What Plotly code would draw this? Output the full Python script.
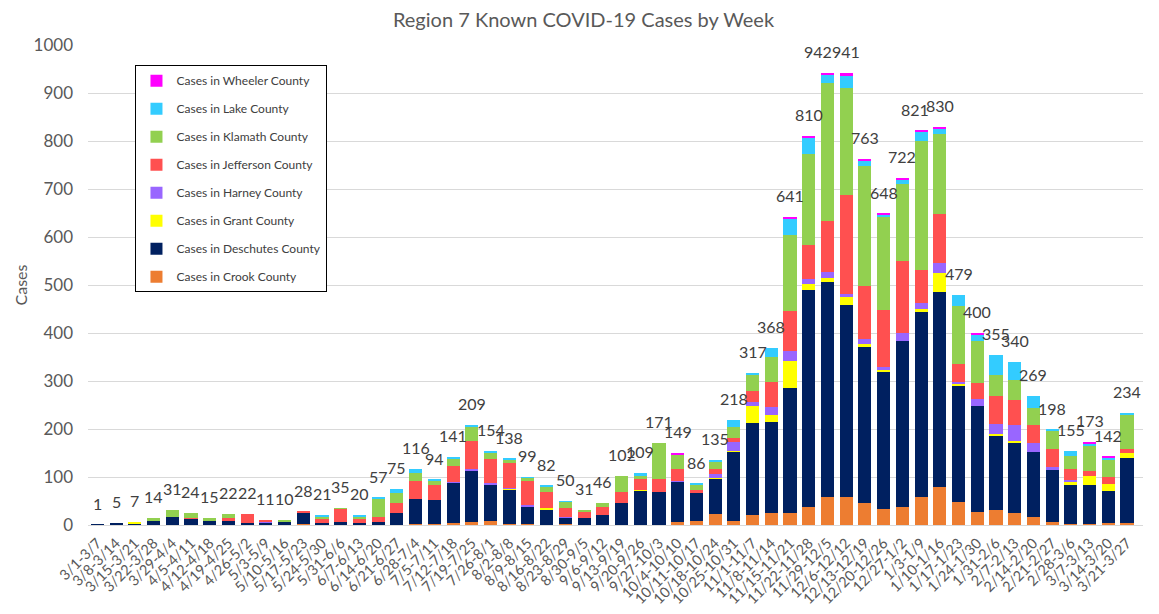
import plotly.graph_objects as go

weeks = ["3/1-3/7", "3/8-3/14", "3/15-3/21", "3/22-3/28", "3/29-4/4", "4/5-4/11", "4/12-4/18",
         "4/19-4/25", "4/26-5/2", "5/3-5/9", "5/10-5/16", "5/17-5/23", "5/24-5/30", "5/31-6/6",
         "6/7-6/13", "6/14-6/20", "6/21-6/27", "6/28-7/4", "7/5-7/11", "7/12-7/18", "7/19-7/25",
         "7/26-8/1", "8/2-8/8", "8/9-8/15", "8/16-8/22", "8/23-8/29", "8/30-9/5", "9/6-9/12",
         "9/13-9/19", "9/20-9/26", "9/27-10/3", "10/4-10/10", "10/11-10/17", "10/18-10/24",
         "10/25-10/31", "11/1-11/7", "11/8-11/14", "11/15-11/21", "11/22-11/28", "11/29-12/5",
         "12/6-12/12", "12/13-12/19", "12/20-12/26", "12/27-1/2", "1/3-1/9", "1/10-1/16",
         "1/17-1/23", "1/24-1/30", "1/31-2/6", "2/7-2/13", "2/14-2/20", "2/21-2/27", "2/28-3/6",
         "3/7-3/13", "3/14-3/20", "3/21-3/27"]

crook = [0, 0, 0, 0, 0, 0, 0, 1, 1, 0, 0, 2, 1, 0, 1, 1, 1, 2, 3, 5, 6, 8, 3, 2, 1, 2, 1, 0,
         1, 1, 1, 7, 9, 22, 9, 21, 26, 24, 38, 58, 58, 45, 33, 38, 59, 80, 47, 28, 31, 26, 17,
         7, 3, 3, 5, 5]
deschutes = [1, 5, 4, 9, 17, 13, 9, 8, 3, 6, 7, 24, 4, 7, 3, 6, 25, 52, 49, 84, 106, 76, 71,
             36, 31, 13, 13, 21, 44, 70, 67, 83, 58, 74, 144, 192, 188, 262, 452, 448, 401,
             325, 286, 346, 384, 405, 244, 219, 156, 146, 136, 108, 80, 81, 65, 134]
grant = [0, 0, 3, 0, 0, 0, 0, 0, 0, 0, 0, 0, 0, 0, 0, 0, 0, 0, 0, 0, 0, 0, 3, 0, 3, 0, 0, 0,
         0, 2, 0, 0, 0, 2, 2, 34, 15, 56, 12, 8, 16, 7, 3, 0, 7, 40, 3, 0, 3, 3, 0, 0, 7, 19,
         15, 10]
harney = [0, 0, 0, 0, 0, 0, 0, 0, 0, 1, 0, 0, 0, 0, 0, 0, 0, 0, 0, 1, 5, 3, 1, 3, 0, 2, 0, 0,
          0, 0, 0, 2, 0, 9, 17, 9, 17, 20, 11, 13, 6, 10, 7, 15, 13, 21, 4, 15, 21, 33, 17, 5,
          4, 0, 0, 0]
jefferson = [0, 0, 0, 0, 0, 1, 0, 6, 18, 4, 0, 2, 8, 27, 8, 10, 19, 37, 32, 33, 59, 50, 51,
             50, 33, 18, 15, 17, 24, 22, 27, 24, 5, 10, 9, 23, 52, 84, 71, 106, 207, 111, 119,
             151, 69, 101, 38, 33, 57, 52, 38, 38, 22, 10, 14, 10]
klamath = [0, 0, 0, 5, 14, 10, 6, 7, 0, 0, 3, 0, 5, 1, 6, 39, 22, 17, 8, 15, 29, 13, 8, 7, 13,
           13, 2, 8, 33, 7, 76, 30, 13, 15, 23, 35, 53, 159, 188, 287, 222, 250, 195, 160, 269,
           168, 121, 88, 45, 42, 35, 38, 28, 52, 38, 72]
lake = [0, 0, 0, 0, 0, 0, 0, 0, 0, 0, 0, 0, 3, 0, 2, 1, 8, 8, 2, 3, 4, 4, 1, 1, 1, 2, 0, 0, 0,
        7, 0, 0, 1, 3, 14, 3, 17, 33, 35, 19, 26, 12, 3, 9, 19, 12, 22, 14, 42, 38, 26, 2, 11,
        5, 3, 3]
wheeler = [0, 0, 0, 0, 0, 0, 0, 0, 0, 0, 0, 0, 0, 0, 0, 0, 0, 0, 0, 0, 0, 0, 0, 0, 0, 0, 0, 0,
           0, 0, 0, 3, 0, 0, 0, 0, 0, 3, 3, 3, 5, 3, 2, 3, 1, 3, 0, 3, 0, 0, 0, 0, 0, 3, 2, 0]

totals = [1, 5, 7, 14, 31, 24, 15, 22, 22, 11, 10, 28, 21, 35, 20, 57, 75, 116, 94, 141, 209,
          154, 138, 99, 82, 50, 31, 46, 102, 109, 171, 149, 86, 135, 218, 317, 368, 641, 810,
          942, 941, 763, 648, 722, 821, 830, 479, 400, 355, 340, 269, 198, 155, 173, 142, 234]

series = [
    ("Cases in Crook County", crook, "#ED7D31"),
    ("Cases in Deschutes County", deschutes, "#002060"),
    ("Cases in Grant County", grant, "#FFFF00"),
    ("Cases in Harney County", harney, "#9966FF"),
    ("Cases in Jefferson County", jefferson, "#FF5050"),
    ("Cases in Klamath County", klamath, "#92D050"),
    ("Cases in Lake County", lake, "#33CCFF"),
    ("Cases in Wheeler County", wheeler, "#FF00FF"),
]

# small horizontal nudges of a few total labels (style only), as in the reference
label_nudge = {"11/29-12/5": -9, "1/3-1/9": -6}

FONT = "Lato, 'Open Sans', sans-serif"
GRAY = "#595959"

fig = go.Figure()
n = len(series)
for i, (name, vals, color) in enumerate(series):
    fig.add_trace(go.Bar(
        x=weeks, y=vals, name=name, marker_color=color, marker_line_width=0,
        legendgroup=f"g{i}", legendrank=n - i,
    ))

for w, t in zip(weeks, totals):
    fig.add_annotation(x=w, y=t, text=str(t), showarrow=False, yanchor="bottom",
                       yshift=10, xshift=label_nudge.get(w, 0),
                       font=dict(family=FONT, size=16, color="#404040"))

fig.update_layout(
    barmode="stack",
    bargap=0.3,
    width=1151, height=606,
    margin=dict(l=80, r=16, t=37, b=89),
    paper_bgcolor="white", plot_bgcolor="white",
    title=dict(text="Region 7 Known COVID-19 Cases by Week", x=0.5, xanchor="center",
               y=0.980, yanchor="middle",
               font=dict(family=FONT, size=20, color=GRAY)),
    font=dict(family=FONT, color=GRAY),
    legend=dict(x=0.045, y=0.958, xanchor="left", yanchor="top",
                traceorder="grouped", itemwidth=30,
                bordercolor="black", borderwidth=1, bgcolor="white",
                font=dict(family=FONT, size=12, color="#404040"), tracegroupgap=9),
    showlegend=True,
)
fig.update_yaxes(range=[0, 1000], dtick=100, showgrid=True, gridcolor="#D9D9D9",
                 gridwidth=1, zeroline=False, tickfont=dict(family=FONT, size=17, color=GRAY),
                 ticklabelstandoff=14,
                 title=dict(text="Cases", font=dict(family=FONT, size=16, color=GRAY), standoff=1),
                 ticks="", showline=False)
fig.update_xaxes(type="category", tickmode="array", tickvals=weeks, ticktext=weeks,
                 tickangle=-45, tickfont=dict(family=FONT, size=14.5, color=GRAY),
                 ticklabelstandoff=3, automargin=False,
                 showline=True, linecolor="#D9D9D9", linewidth=1, ticks="")

fig.write_html("out.html")
